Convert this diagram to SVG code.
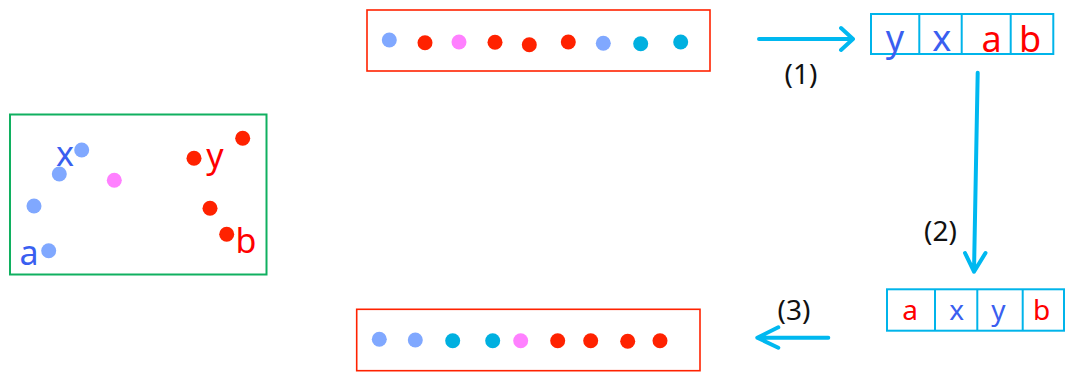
<svg xmlns="http://www.w3.org/2000/svg" width="1065" height="373" viewBox="0 0 1065 373">
<style>
.lb{fill:#80a8ff}.rd{fill:#ff2200}.pk{fill:#ff80ff}.cy{fill:#00b0e0}
.rbox{fill:none;stroke:#ff2200;stroke-width:1.6}
.abox{fill:none;stroke:#00b4ea;stroke-width:2}
.t{font-family:"Noto Sans","DejaVu Sans",sans-serif;text-anchor:middle}
.tb{fill:#3a5ff0}.tr{fill:#ff0000}
.lab{font-family:"Noto Sans","DejaVu Sans",sans-serif;font-size:28px;fill:#111;text-anchor:middle}
.arr{fill:none;stroke:#00b8f0;stroke-width:4;stroke-linecap:round;stroke-linejoin:round}
</style>
<rect width="1065" height="373" fill="#fff"/>
<g id="scatter">
<rect x="10" y="114.5" width="256.5" height="160" fill="none" stroke="#10b060" stroke-width="2"/>
<circle class="lb" cx="81.7" cy="150" r="7.5"/>
<circle class="lb" cx="59.3" cy="174" r="7.5"/>
<circle class="pk" cx="114.3" cy="180.3" r="7.5"/>
<circle class="lb" cx="34" cy="206" r="7.5"/>
<circle class="lb" cx="48.7" cy="250.7" r="7.5"/>
<circle class="rd" cx="194" cy="158.3" r="7.5"/>
<circle class="rd" cx="242.7" cy="138.3" r="7.5"/>
<circle class="rd" cx="210" cy="208.3" r="7.5"/>
<circle class="rd" cx="226.7" cy="234.3" r="7.5"/>
<text class="t tb" x="65" y="166" font-size="34">x</text>
<text class="t tr" x="215" y="168" font-size="34">y</text>
<text class="t tb" x="29" y="265" font-size="34">a</text>
<text class="t tr" x="246" y="252.5" font-size="34">b</text>
</g>
<g id="top-row">
<rect class="rbox" x="367" y="10" width="343" height="61"/>
<circle class="lb" cx="389.3" cy="40" r="7.5"/>
<circle class="rd" cx="425" cy="42.7" r="7.5"/>
<circle class="pk" cx="459" cy="42" r="7.5"/>
<circle class="rd" cx="495" cy="42.3" r="7.5"/>
<circle class="rd" cx="529.3" cy="44.7" r="7.5"/>
<circle class="rd" cx="568.3" cy="42" r="7.5"/>
<circle class="lb" cx="603.3" cy="43.3" r="7.5"/>
<circle class="cy" cx="640.7" cy="43.7" r="7.5"/>
<circle class="cy" cx="680.7" cy="42" r="7.5"/>
</g>
<g id="array1">
<rect class="abox" x="871" y="14" width="182.3" height="40"/>
<line class="abox" x1="919.3" y1="14" x2="919.3" y2="54"/>
<line class="abox" x1="961.7" y1="14" x2="961.7" y2="54"/>
<line class="abox" x1="1010.7" y1="14" x2="1010.7" y2="54"/>
<text class="t tb" x="895" y="51" font-size="36">y</text>
<text class="t tb" x="941.7" y="51" font-size="36">x</text>
<text class="t tr" x="991.7" y="51.5" font-size="36">a</text>
<text class="t tr" x="1030" y="51.5" font-size="36">b</text>
</g>
<g id="array2">
<rect class="abox" x="887" y="289.3" width="177" height="41.4"/>
<line class="abox" x1="935" y1="289.3" x2="935" y2="330.7"/>
<line class="abox" x1="977.3" y1="289.3" x2="977.3" y2="330.7"/>
<line class="abox" x1="1022.7" y1="289.3" x2="1022.7" y2="330.7"/>
<text class="t tr" x="910" y="320" font-size="28">a</text>
<text class="t tb" x="956.7" y="320" font-size="28">x</text>
<text class="t tb" x="998.3" y="320" font-size="28">y</text>
<text class="t tr" x="1041.7" y="320" font-size="28">b</text>
</g>
<g id="bottom-row">
<rect class="rbox" x="356.7" y="309.3" width="343.3" height="61.4"/>
<circle class="lb" cx="379.3" cy="339.3" r="7.5"/>
<circle class="lb" cx="415.3" cy="340" r="7.5"/>
<circle class="cy" cx="452.7" cy="340.7" r="7.5"/>
<circle class="cy" cx="492.7" cy="340.7" r="7.5"/>
<circle class="pk" cx="520.7" cy="340.7" r="7.5"/>
<circle class="rd" cx="557.7" cy="340.7" r="7.5"/>
<circle class="rd" cx="590.7" cy="340.7" r="7.5"/>
<circle class="rd" cx="627.7" cy="341.3" r="7.5"/>
<circle class="rd" cx="660" cy="340.7" r="7.5"/>
</g>
<g id="connectors">
<path class="arr" d="M759 39 H853 M841 28 L853 39 L841 50"/>
<path class="arr" d="M977.7 72.7 L974 271.7 M965 253 L974 271.7 L985.5 253"/>
<path class="arr" d="M828.3 337.7 H757.3 M778.3 327.3 L757.3 337.7 L778.3 347.7"/>
<text class="lab" x="801" y="84">(1)</text>
<text class="lab" x="940.5" y="241">(2)</text>
<text class="lab" x="794" y="320">(3)</text>
</g>
</svg>
